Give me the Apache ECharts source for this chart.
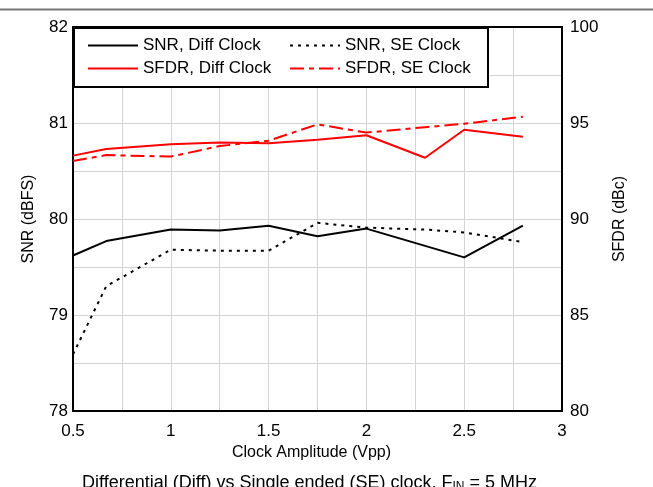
<!DOCTYPE html>
<html><head><meta charset="utf-8">
<script src="https://cdn.jsdelivr.net/npm/echarts@6/dist/echarts.min.js"></script>
<style>html,body{margin:0;padding:0;background:#fff}#c{width:653px;height:487px}</style>
</head><body><div id="c"></div>
<script>
const xDiff = [0.5, 0.67, 1.0, 1.25, 1.5, 1.75, 2.0, 2.3, 2.5, 2.8];
const xSE   = [0.5, 0.67, 1.0, 1.25, 1.5, 1.75, 2.0, 2.3, 2.5, 2.8];
const snrDiff  = [79.62, 79.77, 79.89, 79.88, 79.93, 79.82, 79.90, 79.72, 79.60, 79.93];
const snrSE    = [78.59, 79.30, 79.68, 79.67, 79.67, 79.96, 79.91, 79.89, 79.86, 79.76];
const sfdrDiff = [93.30, 93.65, 93.89, 93.98, 93.94, 94.13, 94.36, 93.19, 94.65, 94.29];
const sfdrSE   = [93.02, 93.33, 93.25, 93.80, 94.08, 94.93, 94.50, 94.78, 94.96, 95.33];
const seriesNames = ['SNR, Diff Clock', 'SNR, SE Clock', 'SFDR, Diff Clock', 'SFDR, SE Clock'];
const xTitle = 'Clock Amplitude (Vpp)';
const yLeftTitle = 'SNR (dBFS)';
const yRightTitle = 'SFDR (dBc)';

const pair = (xs, ys) => xs.map((x, i) => [x, ys[i]]);
const FONT = 'Liberation Sans, Arial, sans-serif';

const chart = echarts.init(document.getElementById('c'), null, {renderer: 'canvas'});
chart.setOption({
  animation: false,
  backgroundColor: '#fff',
  textStyle: {fontFamily: FONT},
  grid: {left: 73, right: 91, top: 27, bottom: 76},
  title: {
    text: 'Differential (Diff) vs Single ended (SE) clock, F{s|IN} = 5 MHz',
    left: 77, top: 468,
    textStyle: {fontFamily: FONT, fontWeight: 'normal', fontSize: 18, color: '#000',
      rich: {s: {fontFamily: FONT, fontSize: 12, verticalAlign: 'bottom', padding: [8,0,0,0], color: '#000'}}}
  },
  graphic: [
    {type: 'line', shape: {x1: 0, y1: 9.5, x2: 653, y2: 9.5}, style: {stroke: '#777', lineWidth: 2}, z: 0},
    {type: 'rect', shape: {x: 74, y: 28, width: 414, height: 59}, style: {fill: '#fff', stroke: '#000', lineWidth: 2}, z: 50}
  ],
  legend: {
    z: 60,
    left: 87, top: 37,
    width: 410,
    itemWidth: 50, itemHeight: 12, itemGap: 6,
    itemStyle: {opacity: 0},
    data: seriesNames.map(n => ({name: n})),
    textStyle: {fontFamily: FONT, fontSize: 17, color: '#000', width: 140, lineHeight: 15},
    padding: 0
  },
  xAxis: [{
    type: 'value', min: 0.5, max: 3, interval: 0.25,
    axisLine: {show: true, onZero: false, lineStyle: {color: '#000', width: 2}},
    axisTick: {show: false},
    splitLine: {show: true, lineStyle: {color: '#d3d3d3', width: 1}},
    axisLabel: {fontFamily: FONT, fontSize: 17, color: '#000', margin: 12,
      formatter: v => (Math.abs(v * 2 - Math.round(v * 2)) < 1e-6 ? String(v) : '')},
    name: xTitle, nameLocation: 'middle', nameGap: 32,
    nameTextStyle: {fontFamily: FONT, fontSize: 16, color: '#000', padding: [0, 12, 0, 0]}
  }, {
    type: 'value', min: 0.5, max: 3, position: 'top',
    axisLine: {show: true, onZero: false, lineStyle: {color: '#000', width: 2}},
    axisTick: {show: false}, axisLabel: {show: false}, splitLine: {show: false}
  }],
  yAxis: [{
    type: 'value', min: 78, max: 82, interval: 0.5,
    axisLine: {show: true, onZero: false, lineStyle: {color: '#000', width: 2}},
    axisTick: {show: false},
    splitLine: {show: true, lineStyle: {color: '#d3d3d3', width: 1}},
    axisLabel: {fontFamily: FONT, fontSize: 17, color: '#000', margin: 5,
      formatter: v => (Number.isInteger(v) ? String(v) : '')},
    name: yLeftTitle, nameLocation: 'middle', nameGap: 36, nameRotate: 90,
    nameTextStyle: {fontFamily: FONT, fontSize: 16, color: '#000'}
  }, {
    type: 'value', min: 80, max: 100, interval: 5, position: 'right',
    axisLine: {show: true, onZero: false, lineStyle: {color: '#000', width: 2}},
    axisTick: {show: false}, splitLine: {show: false},
    axisLabel: {fontFamily: FONT, fontSize: 17, color: '#000', margin: 8},
    name: yRightTitle, nameLocation: 'middle', nameGap: 50, nameRotate: 90,
    nameTextStyle: {fontFamily: FONT, fontSize: 16, color: '#000'}
  }],
  series: [
    {name: seriesNames[0], type: 'line', yAxisIndex: 0, data: pair(xDiff, snrDiff), symbol: 'none',
      color: '#000', lineStyle: {color: '#000', width: 2, type: 'solid'}},
    {name: seriesNames[1], type: 'line', yAxisIndex: 0, data: pair(xSE, snrSE), symbol: 'none',
      color: '#000', lineStyle: {color: '#000', width: 2, type: [3, 5]}},
    {name: seriesNames[2], type: 'line', yAxisIndex: 1, data: pair(xDiff, sfdrDiff), symbol: 'none',
      color: '#ff0000', lineStyle: {color: '#ff0000', width: 2, type: 'solid'}},
    {name: seriesNames[3], type: 'line', yAxisIndex: 1, data: pair(xSE, sfdrSE), symbol: 'none',
      color: '#ff0000', lineStyle: {color: '#ff0000', width: 2, type: [14, 5, 5, 5]}}
  ]
});
</script></body></html>
